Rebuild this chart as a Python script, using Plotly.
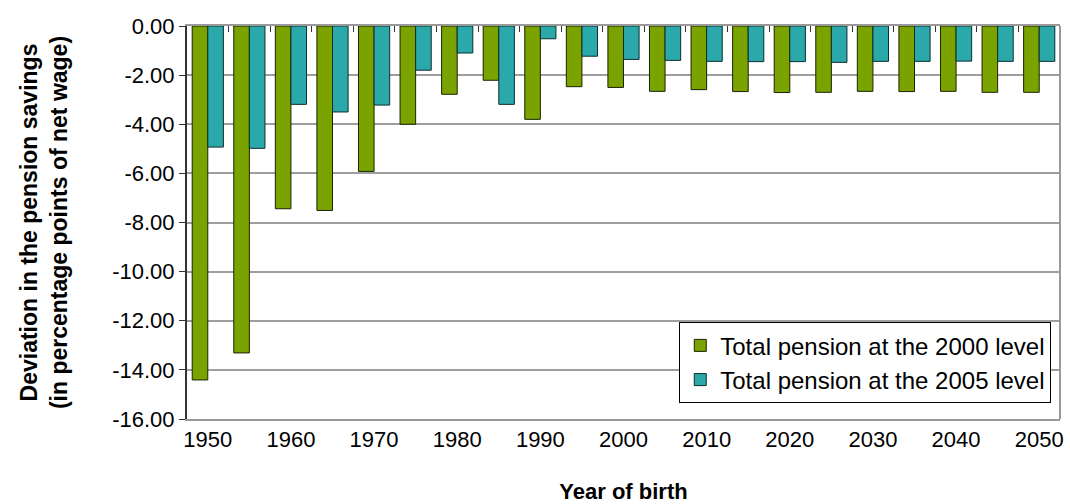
import plotly.graph_objects as go

years = list(range(1950, 2051, 5))
level_2000 = [-14.41, -13.31, -7.44, -7.51, -5.92, -4.00, -2.78, -2.21, -3.80, -2.47, -2.50,
              -2.66, -2.59, -2.67, -2.71, -2.70, -2.66, -2.67, -2.66, -2.70, -2.70]
level_2005 = [-4.93, -4.98, -3.19, -3.50, -3.22, -1.80, -1.10, -3.19, -0.52, -1.23, -1.36,
              -1.40, -1.44, -1.45, -1.45, -1.48, -1.44, -1.44, -1.43, -1.44, -1.44]
year_labels = list(range(1950, 2051, 10))
y_ticks = [0, -2, -4, -6, -8, -10, -12, -14, -16]

FONT = "Liberation Sans, Arial, sans-serif"
GREEN = "#7ba300"
TEAL = "#2ba8aa"

fig = go.Figure()
fig.add_trace(
    go.Bar(
        x=years,
        y=level_2000,
        name="Total pension at the 2000 level",
        marker=dict(color=GREEN, line=dict(color="#1a2200", width=1)),
    )
)
fig.add_trace(
    go.Bar(
        x=years,
        y=level_2005,
        name="Total pension at the 2005 level",
        marker=dict(color=TEAL, line=dict(color="#0d2e2e", width=1)),
    )
)
# empty trace so the top (zero-line) axis with its group ticks gets drawn
fig.add_trace(go.Scatter(x=[], y=[], xaxis="x2", showlegend=False, hoverinfo="skip"))

# tick marks sit between the year groups, like the original category axis
boundaries = [y - 2.5 for y in years] + [years[-1] + 2.5]

fig.update_layout(
    width=1070,
    height=504,
    margin=dict(l=187, r=10, t=26, b=85),
    paper_bgcolor="white",
    plot_bgcolor="white",
    barmode="group",
    bargap=0.25,
    bargroupgap=0,
    font=dict(family=FONT, size=22, color="black"),
    showlegend=True,
    legend=dict(
        x=0.99,
        xanchor="right",
        y=0.04,
        yanchor="bottom",
        bgcolor="white",
        bordercolor="black",
        borderwidth=1,
        font=dict(size=24),
        tracegroupgap=0,
        itemwidth=30,
    ),
    xaxis=dict(
        range=[1947.5, 2052.5],
        automargin=False,
        tickmode="array",
        tickvals=year_labels,
        ticks="",
        tickfont=dict(size=22),
        showgrid=False,
        showline=True,
        linecolor="#999999",
        linewidth=2,
        zeroline=False,
        title=dict(text="<b>Year of birth</b>", font=dict(size=22), standoff=33),
    ),
    xaxis2=dict(
        overlaying="x",
        matches="x",
        side="top",
        automargin=False,
        tickmode="array",
        tickvals=boundaries,
        ticks="inside",
        ticklen=6,
        tickcolor="#333333",
        tickwidth=1,
        showticklabels=False,
        showgrid=False,
        showline=True,
        linecolor="#999999",
        linewidth=2,
        zeroline=False,
    ),
    yaxis=dict(
        range=[-16, 0],
        automargin=False,
        tickmode="array",
        tickvals=y_ticks,
        ticktext=[f"{v:.2f}" for v in y_ticks],
        tickfont=dict(size=22),
        ticks="outside",
        ticklen=6,
        tickcolor="#333333",
        showline=True,
        linecolor="#333333",
        linewidth=2,
        showgrid=True,
        gridcolor="#9e9e9e",
        gridwidth=2,
        zeroline=False,
        title=dict(
            text="<b>Deviation in the pension savings<br>(in percentage points of net wage)</b>",
            font=dict(size=23),
            standoff=38,
        ),
    ),
    shapes=[
        dict(type="line", xref="paper", yref="paper", x0=1, x1=1, y0=0, y1=1,
             line=dict(color="#999999", width=2)),
    ],
)

fig.write_html(
    "out.html",
    config={"displayModeBar": False},
    post_script="document.body.style.margin='0';",
)
